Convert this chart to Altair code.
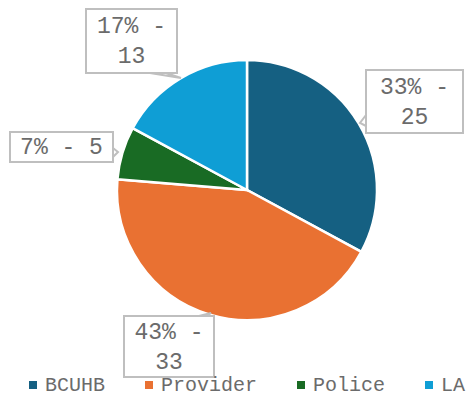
import altair as alt
import pandas as pd

# ---- data ----
categories = ["BCUHB", "Provider", "Police", "LA"]
counts = [25, 33, 5, 13]
percent_labels = ["33%", "43%", "7%", "17%"]
colors = ["#156082", "#E97132", "#196B24", "#0F9ED5"]

# ---- layout (chart pixel coords; page offset 8px removed) ----
OFF = 8
W, H = 459, 389
CX, CY, R = 247 - OFF, 190 - OFF, 130
LINE_H = 30
# callout boxes: left, top, right, bottom, line-break?
box_layout = {
    "BCUHB": (366, 70, 463, 133, True),
    "Provider": (124, 316, 214, 377, True),
    "Police": (10, 132, 113, 162, False),
    "LA": (86, 9, 177, 73, True),
}
# notch polylines: edge point A -> tip -> edge point B
notch_layout = {
    "BCUHB": [(366, 115), (360, 123), (366, 126)],
    "Provider": [(199, 316), (211, 313), (207, 316)],
    "Police": [(113, 148), (118, 152), (113, 157)],
    "LA": [(150, 73), (181, 78), (166, 73)],
}

FONT = "Liberation Mono"
TXT = "#6b6b6b"
BORDER = "#bfbfbf"

pie_df = pd.DataFrame({"category": categories, "count": counts, "order": list(range(len(categories)))})

rows = []
for cat, cnt, pct in zip(categories, counts, percent_labels):
    l, t, r, b, brk = box_layout[cat]
    label = f"{pct} -\n{cnt}" if brk else f"{pct} - {cnt}"
    yc = (t + b) / 2 - OFF
    if brk:
        yc -= LINE_H / 2
    rows.append({"category": cat, "label": label,
                 "x1": l - OFF, "x2": r - OFF, "y1": t - OFF, "y2": b - OFF,
                 "xc": (l + r) / 2 - OFF, "yc": yc})
box_df = pd.DataFrame(rows)

nrows = []
for cat in categories:
    for i, (px, py) in enumerate(notch_layout[cat]):
        nrows.append({"category": cat, "i": i, "px": px - OFF, "py": py - OFF})
notch_df = pd.DataFrame(nrows)

color_scale = alt.Scale(domain=categories, range=colors)

pie = alt.Chart(pie_df).mark_arc(radius=R, stroke="white", strokeWidth=2.5).encode(
    theta=alt.Theta("count:Q", stack=True),
    order=alt.Order("order:Q"),
    color=alt.Color(
        "category:N", scale=color_scale, sort=categories,
        legend=alt.Legend(
            title=None, orient="none", direction="horizontal",
            legendX=15, legendY=367,
            symbolType="square", symbolSize=64, symbolStrokeWidth=0,
            labelFont=FONT, labelFontSize=20, labelColor=TXT,
            labelOffset=2, columnPadding=33, padding=0,
            labelLimit=300,
        ),
    ),
    x=alt.value(CX),
    y=alt.value(CY),
)

notches = alt.Chart(notch_df).mark_line(color=BORDER, strokeWidth=2).encode(
    x=alt.X("px:Q", scale=None, axis=None),
    y=alt.Y("py:Q", scale=None, axis=None),
    detail="category:N",
    order="i:Q",
)

boxes = alt.Chart(box_df).mark_rect(fill="white", stroke=BORDER, strokeWidth=2).encode(
    x=alt.X("x1:Q", scale=None, axis=None),
    x2="x2:Q",
    y=alt.Y("y1:Q", scale=None, axis=None),
    y2="y2:Q",
)

texts = alt.Chart(box_df).mark_text(
    font=FONT, fontSize=23, color=TXT, lineBreak="\n", lineHeight=LINE_H,
    align="center", baseline="middle",
).encode(
    x=alt.X("xc:Q", scale=None, axis=None),
    y=alt.Y("yc:Q", scale=None, axis=None),
    text="label:N",
)

chart = alt.layer(pie, notches, boxes, texts).properties(
    width=W, height=H, padding=0, autosize=alt.AutoSizeParams(type="none"),
).configure_view(stroke=None)

chart.save("out.html", embed_options={"renderer": "svg", "actions": False})
